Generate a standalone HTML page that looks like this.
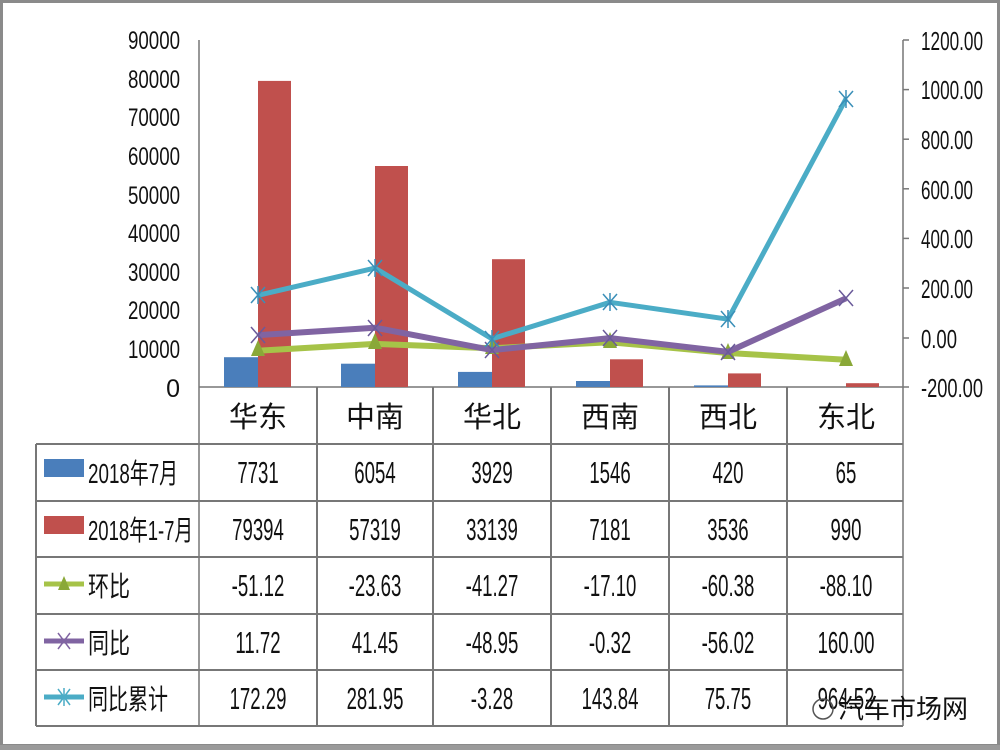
<!DOCTYPE html>
<html><head><meta charset="utf-8"><style>
html,body{margin:0;padding:0;background:#fff;}
svg{display:block;}
text{font-family:"Liberation Sans","Noto Sans CJK SC",sans-serif;fill:#111;}
</style></head><body>
<svg width="1000" height="750" viewBox="0 0 1000 750" xmlns="http://www.w3.org/2000/svg">
<rect x="0" y="0" width="1000" height="750" fill="#fff"/>
<rect x="1.5" y="1.5" width="997" height="744" fill="none" stroke="#8a8a8a" stroke-width="3"/>
<rect x="0" y="745" width="1000" height="5" fill="#9a9a9a"/>
<line x1="199" y1="40" x2="199" y2="726" stroke="#777" stroke-width="1.5"/>
<line x1="903" y1="40" x2="903" y2="726" stroke="#777" stroke-width="1.5"/>
<line x1="199" y1="387" x2="903" y2="387" stroke="#777" stroke-width="1.5"/>
<g stroke="#777" stroke-width="1.5">
<line x1="903" y1="40" x2="909" y2="40"/><line x1="903" y1="89.6" x2="909" y2="89.6"/><line x1="903" y1="139.2" x2="909" y2="139.2"/><line x1="903" y1="188.8" x2="909" y2="188.8"/><line x1="903" y1="238.4" x2="909" y2="238.4"/><line x1="903" y1="288" x2="909" y2="288"/><line x1="903" y1="338" x2="909" y2="338"/><line x1="903" y1="387" x2="909" y2="387"/>
</g>
<g font-size="25" text-anchor="end">
<text x="180" y="49" textLength="52" lengthAdjust="spacingAndGlyphs">90000</text>
<text x="180" y="88" textLength="52" lengthAdjust="spacingAndGlyphs">80000</text>
<text x="180" y="126" textLength="52" lengthAdjust="spacingAndGlyphs">70000</text>
<text x="180" y="165" textLength="52" lengthAdjust="spacingAndGlyphs">60000</text>
<text x="180" y="204" textLength="52" lengthAdjust="spacingAndGlyphs">50000</text>
<text x="180" y="242" textLength="52" lengthAdjust="spacingAndGlyphs">40000</text>
<text x="180" y="281" textLength="52" lengthAdjust="spacingAndGlyphs">30000</text>
<text x="180" y="319" textLength="52" lengthAdjust="spacingAndGlyphs">20000</text>
<text x="180" y="358" textLength="52" lengthAdjust="spacingAndGlyphs">10000</text>
<text x="180" y="397">0</text>
</g>
<g font-size="26">
<text x="921" y="50" textLength="62" lengthAdjust="spacingAndGlyphs">1200.00</text>
<text x="921" y="99" textLength="62" lengthAdjust="spacingAndGlyphs">1000.00</text>
<text x="921" y="149" textLength="52" lengthAdjust="spacingAndGlyphs">800.00</text>
<text x="921" y="199" textLength="52" lengthAdjust="spacingAndGlyphs">600.00</text>
<text x="921" y="248" textLength="52" lengthAdjust="spacingAndGlyphs">400.00</text>
<text x="921" y="298" textLength="52" lengthAdjust="spacingAndGlyphs">200.00</text>
<text x="921" y="348" textLength="36" lengthAdjust="spacingAndGlyphs">0.00</text>
<text x="921" y="397" textLength="62" lengthAdjust="spacingAndGlyphs">-200.00</text>
</g>
<g fill="#4a7ebb">
<rect x="224" y="357.2" width="34" height="29.8"/>
<rect x="341" y="363.7" width="34" height="23.3"/>
<rect x="458" y="371.9" width="34" height="15.1"/>
<rect x="576" y="381" width="34" height="6"/>
<rect x="694" y="385.4" width="34" height="1.6"/>
</g>
<g fill="#c0504d">
<rect x="258" y="80.9" width="33" height="306.1"/>
<rect x="375" y="166" width="33" height="221"/>
<rect x="492" y="259.2" width="33" height="127.8"/>
<rect x="610" y="359.3" width="33" height="27.7"/>
<rect x="728" y="373.4" width="33" height="13.6"/>
<rect x="846" y="383.2" width="33" height="3.8"/>
</g>
<polyline fill="none" stroke="#a6c348" stroke-width="6" stroke-linejoin="round" points="258,350.7 375,343.9 492,348.2 610,342.2 728,353 846,359.8"/>
<g fill="#8aa838">
<polygon points="258,340 251,356 265,356"/><polygon points="375,333 368,349 382,349"/><polygon points="492,338 485,354 499,354"/><polygon points="610,332 603,348 617,348"/><polygon points="728,343 721,359 735,359"/><polygon points="846,350 839,366 853,366"/>
</g>
<polyline fill="none" stroke="#8064a2" stroke-width="6" stroke-linejoin="round" points="258,335.1 375,327.7 492,350.1 610,338.1 728,351.9 846,298.3"/>
<polyline fill="none" stroke="#4bacc6" stroke-width="5" stroke-linejoin="round" points="258,295.3 375,268.1 492,338.8 610,302.3 728,319.2 846,98.8"/>
<g stroke="#6a5a9a" stroke-width="1.5" fill="none">
<path d="M251,327l14,16M265,327l-14,16M368,320l14,16M382,320l-14,16M485,342l14,16M499,342l-14,16M603,330l14,16M617,330l-14,16M721,344l14,16M735,344l-14,16M839,290l14,16M853,290l-14,16"/>
</g>
<g stroke="#3a8fb8" stroke-width="1.5" fill="none">
<path d="M251,287l14,16M265,287l-14,16M258,286v18M368,260l14,16M382,260l-14,16M375,259v18M485,331l14,16M499,331l-14,16M492,330v18M603,294l14,16M617,294l-14,16M610,293v18M721,311l14,16M735,311l-14,16M728,310v18M839,91l14,16M853,91l-14,16M846,90v18"/>
</g>
<g stroke="#777" stroke-width="2" fill="none">
<line x1="36" y1="444" x2="903" y2="444"/>
<line x1="36" y1="501" x2="903" y2="501"/>
<line x1="36" y1="557" x2="903" y2="557"/>
<line x1="36" y1="614" x2="903" y2="614"/>
<line x1="36" y1="670" x2="903" y2="670"/>
<line x1="36" y1="726" x2="903" y2="726"/>
<line x1="36" y1="444" x2="36" y2="726"/>
<line x1="317" y1="387" x2="317" y2="726"/>
<line x1="433" y1="387" x2="433" y2="726"/>
<line x1="551" y1="387" x2="551" y2="726"/>
<line x1="669" y1="387" x2="669" y2="726"/>
<line x1="787" y1="387" x2="787" y2="726"/>
</g>
<g font-size="29" text-anchor="middle">
<text x="258" y="427">华东</text><text x="375" y="427">中南</text><text x="492" y="427">华北</text><text x="610" y="427">西南</text><text x="728" y="427">西北</text><text x="846" y="427">东北</text>
</g>
<rect x="44" y="459" width="40" height="18" fill="#4a7ebb"/>
<rect x="44" y="516" width="40" height="18" fill="#c0504d"/>
<line x1="44" y1="584" x2="84" y2="584" stroke="#a6c348" stroke-width="5"/><polygon points="64,576 58,590 70,590" fill="#8aa838"/>
<line x1="44" y1="641" x2="84" y2="641" stroke="#8064a2" stroke-width="5"/><path d="M58,633l12,16M70,633l-12,16" stroke="#8064a2" stroke-width="1.5"/>
<line x1="44" y1="697" x2="84" y2="697" stroke="#4bacc6" stroke-width="5"/><path d="M58,689l12,16M70,689l-12,16M64,688v18" stroke="#4bacc6" stroke-width="1.5"/>
<g font-size="28">
<text x="88" y="483" textLength="90" lengthAdjust="spacingAndGlyphs">2018年7月</text>
<text x="88" y="540" textLength="105" lengthAdjust="spacingAndGlyphs">2018年1-7月</text>
<text x="88" y="596" textLength="42" lengthAdjust="spacingAndGlyphs">环比</text>
<text x="88" y="653" textLength="42" lengthAdjust="spacingAndGlyphs">同比</text>
<text x="88" y="709" textLength="80" lengthAdjust="spacingAndGlyphs">同比累计</text>
</g>
<g font-size="31" text-anchor="middle" transform="scale(0.6,1)">
<text x="430" y="483">7731</text><text x="625" y="483">6054</text><text x="820" y="483">3929</text><text x="1016.7" y="483">1546</text><text x="1213.3" y="483">420</text><text x="1410" y="483">65</text>
<text x="430" y="540">79394</text><text x="625" y="540">57319</text><text x="820" y="540">33139</text><text x="1016.7" y="540">7181</text><text x="1213.3" y="540">3536</text><text x="1410" y="540">990</text>
<text x="430" y="596">-51.12</text><text x="625" y="596">-23.63</text><text x="820" y="596">-41.27</text><text x="1016.7" y="596">-17.10</text><text x="1213.3" y="596">-60.38</text><text x="1410" y="596">-88.10</text>
<text x="430" y="653">11.72</text><text x="625" y="653">41.45</text><text x="820" y="653">-48.95</text><text x="1016.7" y="653">-0.32</text><text x="1213.3" y="653">-56.02</text><text x="1410" y="653">160.00</text>
<text x="430" y="709">172.29</text><text x="625" y="709">281.95</text><text x="820" y="709">-3.28</text><text x="1016.7" y="709">143.84</text><text x="1213.3" y="709">75.75</text><text x="1410" y="709" fill="#555">964.52</text>
</g>
<circle cx="823" cy="709" r="10" fill="none" stroke="#555" stroke-width="1.5"/>
<text x="838" y="718" font-size="26" fill="#222">汽车市场网</text>
</svg>
</body></html>
